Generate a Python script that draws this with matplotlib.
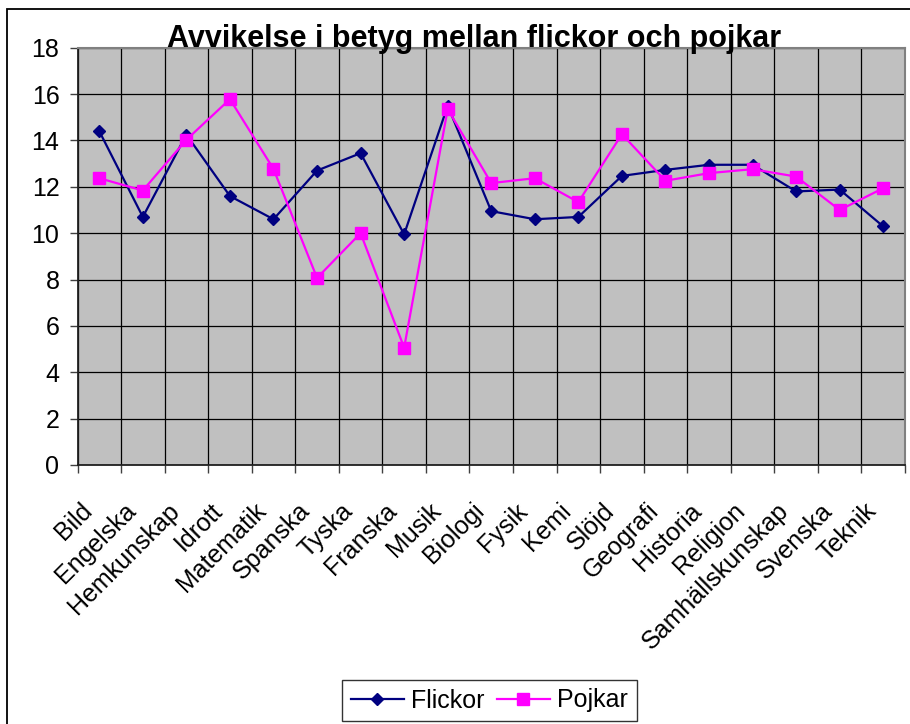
import matplotlib
matplotlib.use("Agg")
import matplotlib.pyplot as plt
from matplotlib.patches import Rectangle
from matplotlib.transforms import ScaledTranslation
import numpy as np

# data
amnen = ['Bild', 'Engelska', 'Hemkunskap', 'Idrott', 'Matematik', 'Spanska',
         'Tyska', 'Franska', 'Musik', 'Biologi', 'Fysik', 'Kemi', 'Slöjd',
         'Geografi', 'Historia', 'Religion', 'Samhällskunskap', 'Svenska', 'Teknik']
flickor = [14.4, 10.7, 14.25, 11.6, 10.6, 12.7, 13.45, 9.95, 15.5, 10.95,
           10.6, 10.7, 12.47, 12.73, 12.95, 12.95, 11.8, 11.88, 10.29]
pojkar = [12.37, 11.84, 14.03, 15.78, 12.77, 8.07, 10.0, 5.06, 15.35, 12.16,
          12.37, 11.34, 14.27, 12.26, 12.59, 12.76, 12.44, 11.0, 11.94]
yticks = list(range(0, 19, 2))

plt.rcParams['font.family'] = ['Liberation Sans', 'DejaVu Sans']

W, H = 910, 724
fig = plt.figure(figsize=(W / 100, H / 100), dpi=100)

# outer chart border (right/bottom fall outside the picture)
fig.patches.append(Rectangle((7 / W, -0.05), 1.2, 1 - 9 / H + 0.05,
                             transform=fig.transFigure, fill=False,
                             edgecolor='black', linewidth=1.3))

left, right, top, bottom = 77.5, 905, 47.7, 465
ax = fig.add_axes([left / W, 1 - bottom / H, (right - left) / W, (bottom - top) / H])
ax.set_facecolor('#C0C0C0')

x = np.arange(len(amnen))
ax.plot(x, flickor, color='#000080', lw=1.6, marker='D', ms=6.5, label='Flickor', zorder=3)
ax.plot(x, pojkar, color='#FF00FF', lw=1.6, marker='s', ms=8.5, label='Pojkar', zorder=3)

ax.set_xlim(-0.5, len(amnen) - 0.5)
ax.set_ylim(0, 18)
ax.set_yticks(yticks)
ax.set_xticks(x)
ax.set_xticklabels(amnen, rotation=45, ha='right', va='center', rotation_mode='anchor')
ax.set_xticks(np.arange(-0.5, len(amnen), 1), minor=True)

ax.tick_params(axis='x', which='major', length=0, pad=0, labelsize=18)
ax.tick_params(axis='x', which='minor', length=6, width=1, color='#404040')
ax.tick_params(axis='y', length=6, width=1, color='#404040', labelsize=18, pad=7)

# shift category labels down-left like the original
shift = ScaledTranslation(-0.11, -0.42, fig.dpi_scale_trans)
for lab in ax.get_xticklabels():
    lab.set_transform(lab.get_transform() + shift)

ax.grid(axis='y', which='major', color='black', lw=0.9)
ax.grid(axis='x', which='minor', color='black', lw=0.9)
ax.set_axisbelow(True)

for s in ['top', 'right']:
    ax.spines[s].set_color('#808080')
    ax.spines[s].set_linewidth(1.5)
for s in ['left', 'bottom']:
    ax.spines[s].set_color('#202020')
    ax.spines[s].set_linewidth(1.3)

fig.text(474.5 / W, 1 - 47 / H, 'Avvikelse i betyg mellan flickor och pojkar',
         ha='center', va='baseline', fontsize=22, fontweight='bold')

leg = fig.legend(loc='center', bbox_to_anchor=(489.5 / W, 1 - 700.5 / H), ncol=2,
                 fontsize=18, frameon=True, fancybox=False, edgecolor='black',
                 handlelength=2.1, handletextpad=0.3, columnspacing=0.5,
                 borderpad=0.35)
leg.get_frame().set_linewidth(1.0)

fig.savefig('out.png', dpi=100, facecolor='white')
